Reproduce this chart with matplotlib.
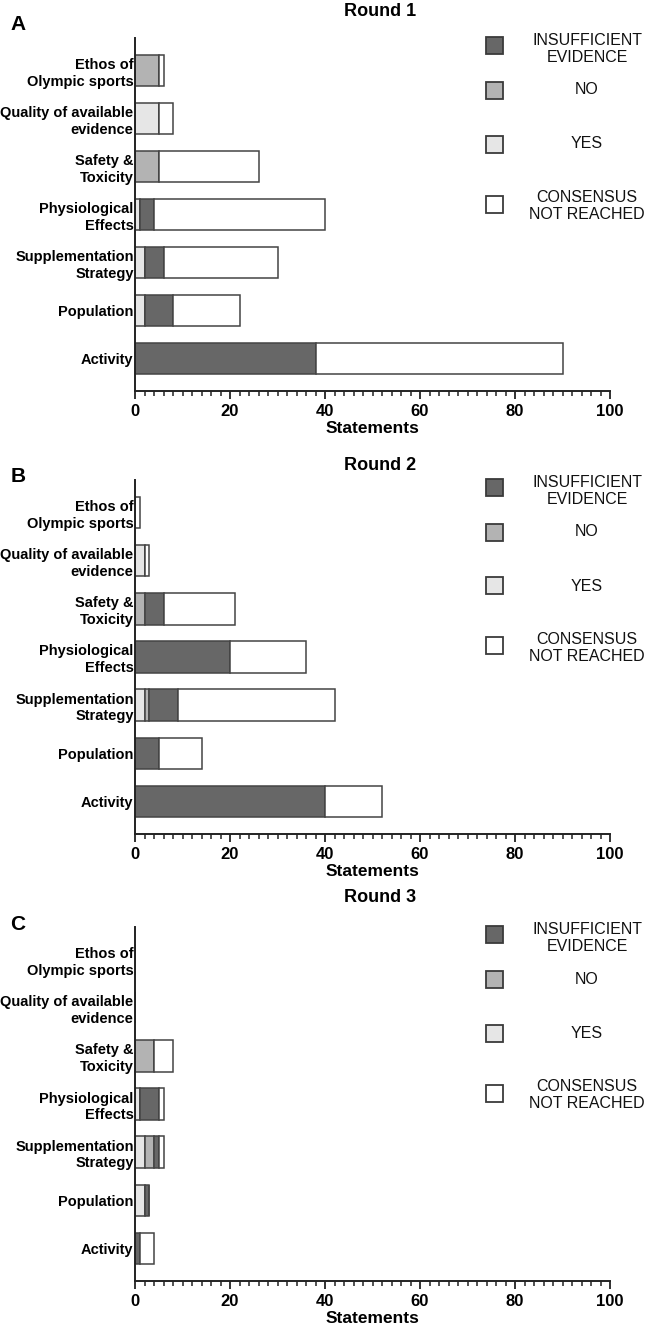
import matplotlib
matplotlib.use('Agg')
import matplotlib.pyplot as plt
from matplotlib.patches import Rectangle
import numpy as np

plt.rcParams['font.family'] = ['Liberation Sans', 'DejaVu Sans']

# 类别（从上到下）
categories = ['Ethos of\nOlympic sports', 'Quality of available\nevidence', 'Safety &\nToxicity',
              'Physiological\nEffects', 'Supplementation\nStrategy', 'Population', 'Activity']

# Round 1
r1_yes = [0, 5, 0, 1, 2, 2, 0]
r1_no = [5, 0, 5, 0, 0, 0, 0]
r1_insuff = [0, 0, 0, 3, 4, 6, 38]
r1_cnr = [1, 3, 21, 36, 24, 14, 52]

# Round 2
r2_yes = [0, 2, 0, 0, 2, 0, 0]
r2_no = [0, 0, 2, 0, 1, 0, 0]
r2_insuff = [0, 0, 4, 20, 6, 5, 40]
r2_cnr = [1, 1, 15, 16, 33, 9, 12]

# Round 3
r3_yes = [0, 0, 0, 1, 2, 2, 0]
r3_no = [0, 0, 4, 0, 2, 0, 0]
r3_insuff = [0, 0, 0, 4, 1, 1, 1]
r3_cnr = [0, 0, 4, 1, 1, 0, 3]

titles = ['Round 1', 'Round 2', 'Round 3']
letters = ['A', 'B', 'C']
legend_labels = ['INSUFFICIENT\nEVIDENCE', 'NO', 'YES', 'CONSENSUS\nNOT REACHED']

c_insuff = '#676767'
c_no = '#b3b3b3'
c_yes = '#e6e6e6'
c_cnr = '#ffffff'
edge = '#444444'

W, H = 656, 1327
fig = plt.figure(figsize=(W / 100, H / 100), dpi=100)

def fx(px):
    return px / W

def fy(py):
    return 1 - py / H

# 每个面板的坐标轴上下边界（像素）
panel_top = [38, 480, 927]
panel_bot = [391, 834, 1281]
title_y = [11, 466, 898]
letter_y = [25, 477, 925]
ax_left, ax_right = 135, 610

rounds = [(r1_yes, r1_no, r1_insuff, r1_cnr),
          (r2_yes, r2_no, r2_insuff, r2_cnr),
          (r3_yes, r3_no, r3_insuff, r3_cnr)]

for k in range(3):
    ax = fig.add_axes([fx(ax_left), fy(panel_bot[k]), fx(ax_right - ax_left),
                       (panel_bot[k] - panel_top[k]) / H])
    yes, no, insuff, cnr = [np.array(v) for v in rounds[k]]
    y = np.arange(len(categories))
    left = np.zeros(len(categories))
    for vals, col in [(yes, c_yes), (no, c_no), (insuff, c_insuff), (cnr, c_cnr)]:
        ax.barh(y, vals, left=left, height=0.65, color=col, edgecolor=edge, linewidth=1.1, zorder=2)
        left = left + vals

    ax.set_xlim(0, 100)
    ax.set_ylim(6.68, -0.68)
    ax.set_yticks(y)
    ax.set_yticklabels(categories, fontsize=10.5, fontweight='bold', ma='right', linespacing=1.25)
    ax.tick_params(axis='y', length=0, pad=1)
    ax.set_xticks(np.arange(0, 101, 20))
    ax.set_xticks(np.arange(0, 101, 2), minor=True)
    ax.tick_params(axis='x', which='major', length=6, width=1.3, labelsize=12, direction='out', color='#222222')
    ax.tick_params(axis='x', which='minor', length=3.5, width=1.1, direction='out', color='#222222')
    for lab in ax.get_xticklabels():
        lab.set_fontweight('bold')
    ax.set_xlabel('Statements', fontsize=12.5, fontweight='bold', labelpad=1)
    for s in ['top', 'right']:
        ax.spines[s].set_visible(False)
    for s in ['left', 'bottom']:
        ax.spines[s].set_linewidth(1.4)
        ax.spines[s].set_color('#222222')

    # 标题和面板字母
    fig.text(fx(380), fy(title_y[k]), titles[k], ha='center', va='center', fontsize=13, fontweight='bold')
    fig.text(fx(18), fy(letter_y[k]), letters[k], ha='center', va='center', fontsize=15, fontweight='bold')

    # 图例
    sq_off = [7, 52, 106, 166]
    tx_off = [11, 52, 106, 168]
    for col, lab, so, to in zip([c_insuff, c_no, c_yes, c_cnr], legend_labels, sq_off, tx_off):
        cy = panel_top[k] + so
        fig.add_artist(Rectangle((fx(486), fy(cy + 8.5)), fx(17), 17 / H, transform=fig.transFigure,
                                 facecolor=col, edgecolor='#3a3a3a', linewidth=1.3))
        fig.text(fx(587), fy(panel_top[k] + to), lab, ha='center', va='center', fontsize=11.5,
                 ma='center', linespacing=1.2, color='#111111')

fig.savefig('out.png', dpi=100)
